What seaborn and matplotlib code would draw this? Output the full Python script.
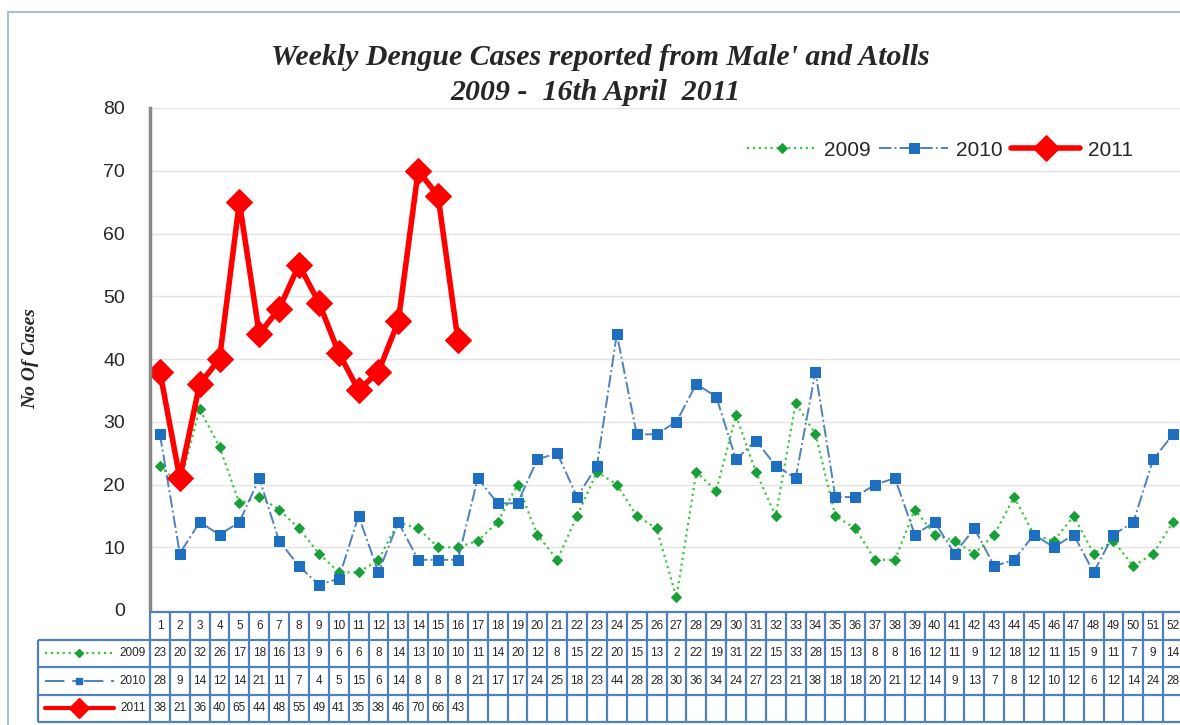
import matplotlib
matplotlib.use("Agg")
import matplotlib.pyplot as plt
import seaborn as sns
import pandas as pd
from matplotlib.patches import Rectangle

sns.set_style("white")
plt.rcParams['font.family'] = ['Liberation Sans', 'DejaVu Sans']

# weekly counts
weeks = list(range(1, 53))
cases_2009 = [23, 20, 32, 26, 17, 18, 16, 13, 9, 6, 6, 8, 14, 13, 10, 10, 11, 14, 20, 12,
              8, 15, 22, 20, 15, 13, 2, 22, 19, 31, 22, 15, 33, 28, 15, 13, 8, 8, 16, 12,
              11, 9, 12, 18, 12, 11, 15, 9, 11, 7, 9, 14]
cases_2010 = [28, 9, 14, 12, 14, 21, 11, 7, 4, 5, 15, 6, 14, 8, 8, 8, 21, 17, 17, 24,
              25, 18, 23, 44, 28, 28, 30, 36, 34, 24, 27, 23, 21, 38, 18, 18, 20, 21, 12, 14,
              9, 13, 7, 8, 12, 10, 12, 6, 12, 14, 24, 28]
cases_2011 = [38, 21, 36, 40, 65, 44, 48, 55, 49, 41, 35, 38, 46, 70, 66, 43]
years = ["2009", "2010", "2011"]

df09 = pd.DataFrame({"week": weeks, "cases": cases_2009})
df10 = pd.DataFrame({"week": weeks, "cases": cases_2010})
df11 = pd.DataFrame({"week": weeks[:len(cases_2011)], "cases": cases_2011})

fig = plt.figure(figsize=(11.8, 7.25), dpi=100)
ax = fig.add_axes([150 / 1180, 115 / 725, 1033 / 1180, 502 / 725])

styles = {
    "2009": dict(color="#3cc83c", ls=":", lw=1.6, marker="D", ms=5.5,
                 mfc="#1a9e3a", mec="#1a9e3a"),
    "2010": dict(color="#4f81bd", ls="-.", lw=1.4, marker="s", ms=6.5,
                 mfc="#1f6fc0", mec="#1f6fc0", dashes=(10, 4, 2, 4)),
    "2011": dict(color="#ff0000", ls="-", lw=4, marker="D", ms=13,
                 mfc="#ff0000", mec="#ff0000"),
}

for yr, d in zip(years, [df09, df10, df11]):
    sns.lineplot(data=d, x="week", y="cases", ax=ax, label=yr, **styles[yr])

ax.set_xlim(0.5, 52.5)
ax.set_ylim(0, 80)
ax.set_yticks(range(0, 81, 10))
ax.set_xticks([])
ax.set_xlabel("")
ax.set_ylabel("")
ax.grid(axis="y", color="#e3e3e3", lw=1)
for s in ["top", "right", "bottom"]:
    ax.spines[s].set_visible(False)
ax.spines["left"].set_color("#888888")
ax.spines["left"].set_linewidth(2.5)
ax.tick_params(axis="y", length=0, labelsize=14, pad=18)

ax.legend(loc="center right", bbox_to_anchor=(0.96, 0.916), ncol=3, frameon=False,
          fontsize=15, handlelength=3.3, columnspacing=0.4, handletextpad=0.4,
          borderaxespad=0)

title_font = dict(ha="center", va="center", fontsize=21.5, fontweight="bold",
                  style="italic", family="Liberation Serif")
fig.text(0.509, 0.921, "Weekly Dengue Cases reported from Male' and Atolls", **title_font)
fig.text(0.505, 0.872, "2009 -  16th April  2011", **title_font)
fig.text(0.026, 0.505, "No Of Cases", rotation=90, ha="center", va="center",
         fontsize=14, fontweight="bold", style="italic", family="Liberation Serif")

# data table under the plot
tab = fig.add_axes([150 / 1180, 3 / 725, 1033 / 1180, 110 / 725])
tab.set_xlim(0.5, 52.5)
tab.set_ylim(0, 4)
tab.axis("off")
left = -5.15
bc = "#4f81bd"
tab.hlines(4, 0.5, 52.5, color=bc, lw=1.6, clip_on=False)
tab.hlines([0, 1, 2, 3], left, 52.5, color=bc, lw=1.6, clip_on=False)
tab.vlines([w - 0.5 for w in weeks] + [52.5], 0, 4, color=bc, lw=1.6, clip_on=False)
tab.vlines(left, 0, 3, color=bc, lw=1.6, clip_on=False)

for w in weeks:
    tab.text(w, 3.5, str(w), ha="center", va="center", fontsize=8.5, clip_on=False)
for row, (yr, vals) in enumerate(zip(years, [cases_2009, cases_2010, cases_2011])):
    yc = 2.5 - row
    for w, v in zip(weeks, vals):
        tab.text(w, yc, str(v), ha="center", va="center", fontsize=8.5, clip_on=False)
    st = {k: v for k, v in styles[yr].items() if k != "marker"}
    st["ms"] = st["ms"] * 0.75
    st["lw"] = min(st["lw"], 3)
    tab.plot([-4.8, -1.3], [yc, yc], clip_on=False, **st)
    tab.plot([-3.05], [yc], clip_on=False, ls="none", marker=styles[yr]["marker"], ms=st["ms"],
             mfc=st["mfc"], mec=st["mec"])
    tab.text(0.3, yc, yr, ha="right", va="center", fontsize=8.5, clip_on=False)

# outer chart frame
fig.patches.append(Rectangle((8 / 1180, -0.05), 1.2, 1.05 - 12 / 725, transform=fig.transFigure,
                             fill=False, ec="#a9bed8", lw=1.5))

fig.savefig("out.png", dpi=100)
